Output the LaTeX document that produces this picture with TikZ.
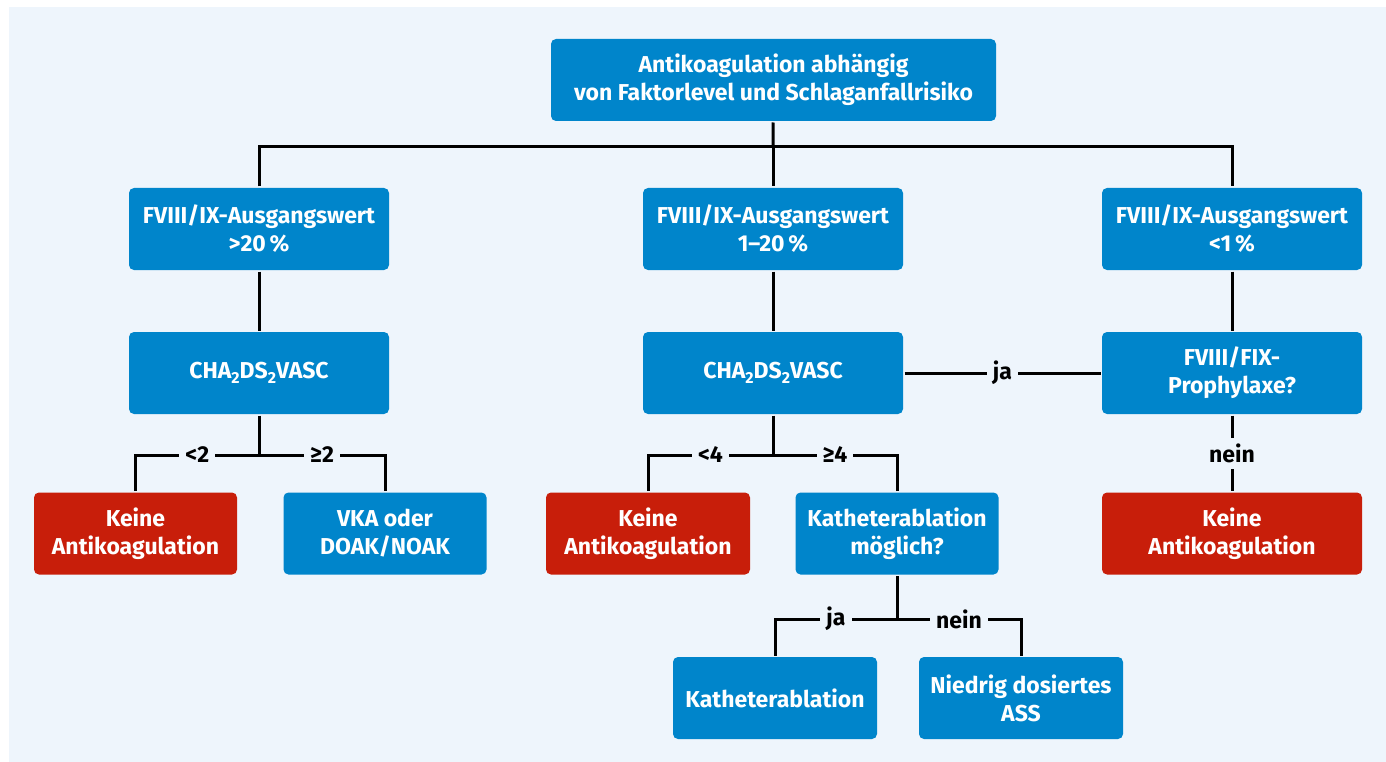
\documentclass[tikz,border=0pt]{standalone}
\usepackage{fontspec}
\setmainfont{Fira Sans}
\usepackage{tikz}

\definecolor{bgc}{RGB}{238,245,252}
\definecolor{boxblue}{RGB}{0,133,203}
\definecolor{boxred}{RGB}{200,30,10}
\newcommand{\lowix}[1]{\raisebox{-.4ex}{\fontsize{16}{16}\selectfont #1}}

\begin{document}
\begin{tikzpicture}[x=1pt,y=-1pt,line width=3pt]
\tikzset{bx/.style={rectangle,rounded corners=5pt,fill=boxblue,text=white,
    font=\fontsize{23}{28}\selectfont\bfseries,align=center,
    minimum width=260pt,minimum height=82pt,inner sep=2pt},
  nobx/.style={bx,fill=boxred},
  lbl/.style={fill=bgc,text=black,inner sep=6pt,
    font=\fontsize{23}{28}\selectfont\bfseries}}

\useasboundingbox (0,0) rectangle (1386,762);
\fill[bgc] (9,7) rectangle (1386,762);

\node[bx,minimum width=445pt] (0) at (773.5,80) {Antikoagulation abhängig\\von Faktorlevel und Schlaganfallrisiko};
\node[bx] (1) at (259,229) {FVIII/IX-Ausgangswert\\>20\,\%};
\node[bx] (2) at (773,229) {FVIII/IX-Ausgangswert\\1–20\,\%};
\node[bx] (3) at (1232,229) {FVIII/IX-Ausgangswert\\<1\,\%};
\node[bx] (4) at (259,373) {CHA\lowix{2}DS\lowix{2}VASC};
\node[bx] (5) at (773,373) {CHA\lowix{2}DS\lowix{2}VASC};
\node[bx] (6) at (1232,373) {FVIII/FIX-\\Prophylaxe?};
\node[nobx,minimum width=203pt] (7) at (135.5,533.5) {Keine\\Antikoagulation};
\node[bx,minimum width=203pt] (8) at (385,533.5) {VKA oder\\DOAK/NOAK};
\node[nobx,minimum width=204pt] (9) at (648,533.5) {Keine\\Antikoagulation};
\node[bx,minimum width=203pt] (10) at (897,533.5) {Katheterablation\\möglich?};
\node[nobx] (11) at (1232,533.5) {Keine\\Antikoagulation};
\node[bx,minimum width=204pt] (12) at (775,698) {Katheterablation};
\node[bx,minimum width=204pt] (13) at (1021,698) {Niedrig dosiertes\\ASS};

\coordinate (t) at (773,147);
\coordinate (a) at (259,455);
\coordinate (b) at (773,455);
\coordinate (c) at (897,619);

\draw (0) -- (t);
\draw (1.north) |- (t) -| (3.north);
\draw (t) -- (2);
\draw (1) -- (4);
\draw (2) -- (5);
\draw (3) -- (6);
\draw (5) -- node[lbl]{ja} (6);
\draw (6) -- node[lbl]{nein} (11);

\draw (4) -- (a);
\draw (7.north) |- node[lbl,pos=.75]{<2} (a);
\draw (8.north) |- node[lbl,pos=.75]{≥2} (a);

\draw (5) -- (b);
\draw (9.north) |- node[lbl,pos=.75]{<4} (b);
\draw (10.north) |- node[lbl,pos=.75]{≥4} (b);

\draw (10) -- (c);
\draw (12.north) |- node[lbl,pos=.75]{ja} (c);
\draw (13.north) |- node[lbl,pos=.75]{nein} (c);
\end{tikzpicture}
\end{document}
